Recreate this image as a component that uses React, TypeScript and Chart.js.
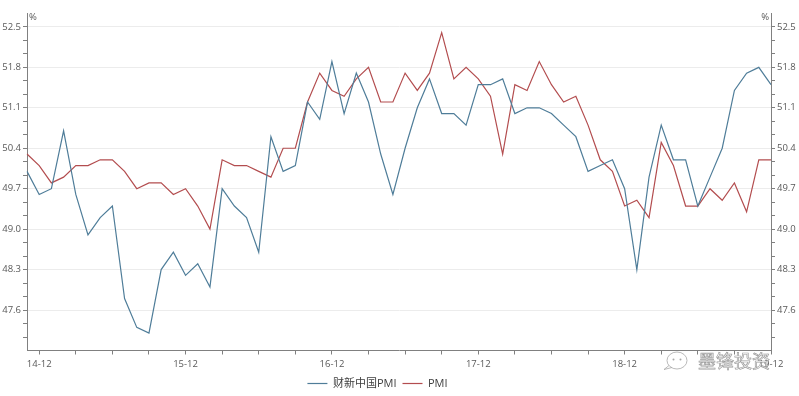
import React, { useEffect, useRef } from "react";
import { Chart, registerables } from "chart.js";

Chart.register(...registerables);

const categories = [
  "14-11", "14-12",
  "15-01", "15-02", "15-03", "15-04", "15-05", "15-06", "15-07", "15-08", "15-09", "15-10", "15-11", "15-12",
  "16-01", "16-02", "16-03", "16-04", "16-05", "16-06", "16-07", "16-08", "16-09", "16-10", "16-11", "16-12",
  "17-01", "17-02", "17-03", "17-04", "17-05", "17-06", "17-07", "17-08", "17-09", "17-10", "17-11", "17-12",
  "18-01", "18-02", "18-03", "18-04", "18-05", "18-06", "18-07", "18-08", "18-09", "18-10", "18-11", "18-12",
  "19-01", "19-02", "19-03", "19-04", "19-05", "19-06", "19-07", "19-08", "19-09", "19-10", "19-11", "19-12",
];

const caixinPMI = [
  50.0, 49.6,
  49.7, 50.7, 49.6, 48.9, 49.2, 49.4, 47.8, 47.3, 47.2, 48.3, 48.6, 48.2,
  48.4, 48.0, 49.7, 49.4, 49.2, 48.6, 50.6, 50.0, 50.1, 51.2, 50.9, 51.9,
  51.0, 51.7, 51.2, 50.3, 49.6, 50.4, 51.1, 51.6, 51.0, 51.0, 50.8, 51.5,
  51.5, 51.6, 51.0, 51.1, 51.1, 51.0, 50.8, 50.6, 50.0, 50.1, 50.2, 49.7,
  48.3, 49.9, 50.8, 50.2, 50.2, 49.4, 49.9, 50.4, 51.4, 51.7, 51.8, 51.5,
];

const officialPMI = [
  50.3, 50.1,
  49.8, 49.9, 50.1, 50.1, 50.2, 50.2, 50.0, 49.7, 49.8, 49.8, 49.6, 49.7,
  49.4, 49.0, 50.2, 50.1, 50.1, 50.0, 49.9, 50.4, 50.4, 51.2, 51.7, 51.4,
  51.3, 51.6, 51.8, 51.2, 51.2, 51.7, 51.4, 51.7, 52.4, 51.6, 51.8, 51.6,
  51.3, 50.3, 51.5, 51.4, 51.9, 51.5, 51.2, 51.3, 50.8, 50.2, 50.0, 49.4,
  49.5, 49.2, 50.5, 50.1, 49.4, 49.4, 49.7, 49.5, 49.8, 49.3, 50.2, 50.2,
];

const yMajorTicks = [47.6, 48.3, 49.0, 49.7, 50.4, 51.1, 51.8, 52.5];
const seriesNames = ["财新中国PMI", "PMI"];
const unitLabel = "%";
const watermarkText = "墨锋投资";

const Y_MIN = 46.9;
const Y_MAX = 52.73;
const MINOR_STEP = 0.7 / 3;

const yTickValues: number[] = [];
yMajorTicks.forEach((m) => {
  yTickValues.push(+(m - 2 * MINOR_STEP).toFixed(4), +(m - MINOR_STEP).toFixed(4), m);
});

const FONT = '"Segoe UI", "Open Sans", "Noto Sans CJK SC", sans-serif';
const AXIS_COLOR = "#808080";
const TEXT_COLOR = "#595959";
const BLUE = "#4f7d99";
const RED = "#b34d4f";

const extrasPlugin = {
  id: "extras",
  afterLayout(chart: any) {
    const lg = chart.legend;
    if (lg) {
      lg.right -= 44;
      lg.top += 3;
      lg.bottom += 3;
    }
  },
  afterDraw(chart: any) {
    const ctx = chart.ctx as CanvasRenderingContext2D;
    const yL = chart.scales.y;
    const yR = chart.scales.y2;
    const top = chart.chartArea.top;
    ctx.save();
    ctx.font = `9.5px ${FONT}`;
    ctx.fillStyle = TEXT_COLOR;
    ctx.textBaseline = "middle";
    ctx.textAlign = "left";
    ctx.fillText(unitLabel, yL.right + 2, top + 4);
    ctx.textAlign = "right";
    ctx.fillText(unitLabel, yR.left - 2, top + 4);

    // watermark
    const bx = chart.chartArea.right - 94;
    const by = chart.chartArea.bottom + 10;
    ctx.strokeStyle = "#a8a8a8";
    ctx.lineWidth = 0.8;
    ctx.fillStyle = "rgba(255,255,255,0.85)";
    ctx.beginPath();
    ctx.ellipse(bx, by, 10, 8.5, 0, 0, Math.PI * 2);
    ctx.fill();
    ctx.stroke();
    ctx.beginPath();
    ctx.moveTo(bx - 8, by + 5);
    ctx.lineTo(bx - 13, by + 9);
    ctx.lineTo(bx - 5, by + 7);
    ctx.stroke();
    ctx.fillStyle = "#a8a8a8";
    ctx.beginPath();
    ctx.arc(bx - 3.5, by - 1, 1, 0, Math.PI * 2);
    ctx.arc(bx + 3.5, by - 1, 1, 0, Math.PI * 2);
    ctx.fill();

    ctx.font = `18px "Noto Sans CJK SC", sans-serif`;
    ctx.textAlign = "left";
    ctx.textBaseline = "middle";
    ctx.fillStyle = "rgba(255,255,255,0.9)";
    ctx.fillText(watermarkText, bx + 21, by + 1);
    ctx.strokeStyle = "#9c9c9c";
    ctx.lineWidth = 0.7;
    ctx.strokeText(watermarkText, bx + 21, by + 1);
    ctx.restore();
  },
};

function yAxis(position: "left" | "right", width: number, onArea: boolean) {
  return {
    type: "linear" as const,
    position,
    display: true,
    min: Y_MIN,
    max: Y_MAX,
    afterBuildTicks: (scale: any) => {
      scale.ticks = yTickValues.map((v) => ({ value: v }));
    },
    afterFit: (scale: any) => {
      scale.width = width;
    },
    grid: {
      drawOnChartArea: onArea,
      color: (c: any) => (c.index % 3 === 2 ? "#ececec" : "rgba(0,0,0,0)"),
      tickColor: AXIS_COLOR,
      tickLength: 4,
      lineWidth: 1,
    },
    border: { color: AXIS_COLOR, width: 1 },
    ticks: {
      autoSkip: false,
      padding: 2,
      color: TEXT_COLOR,
      font: { size: 9.5, family: FONT },
      callback: (_v: any, i: number) => (i % 3 === 2 ? yTickValues[i].toFixed(1) : ""),
    },
  };
}

export default function App() {
  const canvasRef = useRef<HTMLCanvasElement | null>(null);

  useEffect(() => {
    if (!canvasRef.current) return;
    const chart = new Chart(canvasRef.current, {
      type: "line",
      data: {
        labels: categories,
        datasets: [
          {
            label: seriesNames[0],
            data: caixinPMI,
            borderColor: BLUE,
            backgroundColor: BLUE,
            borderWidth: 1.2,
            pointRadius: 0,
            tension: 0,
            yAxisID: "y",
          },
          {
            label: seriesNames[1],
            data: officialPMI,
            borderColor: RED,
            backgroundColor: RED,
            borderWidth: 1.2,
            pointRadius: 0,
            tension: 0,
            yAxisID: "y",
          },
        ],
      },
      options: {
        animation: false,
        responsive: true,
        maintainAspectRatio: false,
        layout: { padding: { top: 13.6, left: 0, right: 0, bottom: 0 } },
        plugins: {
          tooltip: { enabled: false },
          legend: {
            display: true,
            position: "bottom",
            labels: {
              usePointStyle: true,
              pointStyle: "line",
              pointStyleWidth: 20,
              padding: 6,
              color: "#404040",
              font: { size: 11, family: FONT },
            },
          },
        },
        scales: {
          x: {
            type: "category",
            offset: false,
            afterFit: (scale: any) => {
              scale.height = 18.5;
            },
            grid: {
              drawOnChartArea: false,
              drawTicks: true,
              tickLength: 4,
              tickColor: (c: any) => (c.index % 3 === 1 ? AXIS_COLOR : "rgba(0,0,0,0)"),
            },
            border: { color: AXIS_COLOR, width: 1 },
            ticks: {
              autoSkip: false,
              maxRotation: 0,
              minRotation: 0,
              padding: 4,
              color: TEXT_COLOR,
              font: { size: 9.5, family: FONT },
              callback: (_v: any, i: number) => (categories[i].endsWith("-12") ? categories[i] : ""),
            },
          },
          y: yAxis("left", 27, true),
          y2: yAxis("right", 28, false),
        },
      },
      plugins: [extrasPlugin],
    });
    return () => chart.destroy();
  }, []);

  return (
    <div style={{ position: "fixed", left: 0, top: 0, width: 799, height: 396, background: "#fff" }}>
      <canvas ref={canvasRef} />
    </div>
  );
}
